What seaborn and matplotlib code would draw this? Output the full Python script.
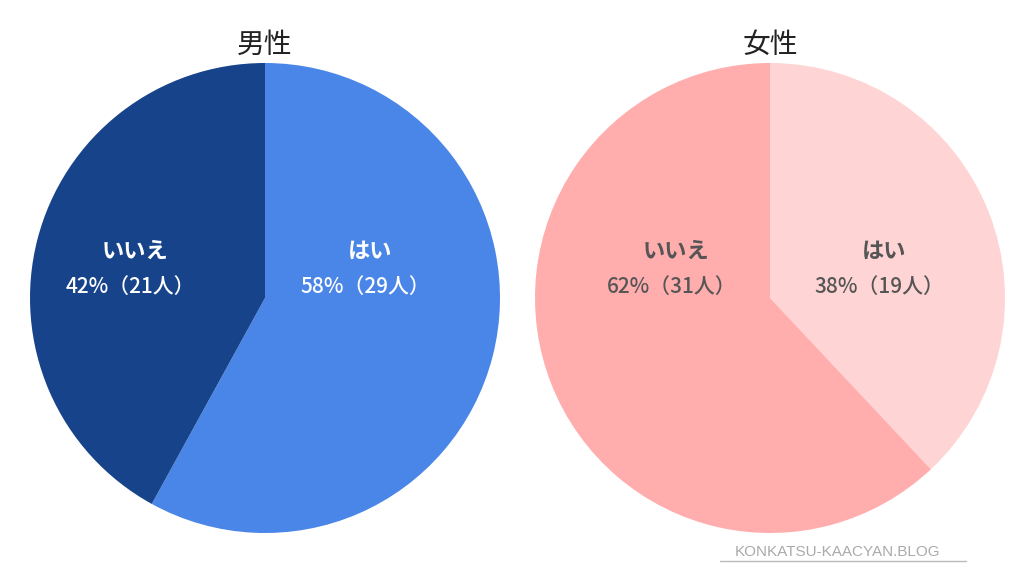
import numpy as np
import matplotlib
matplotlib.use("Agg")
import matplotlib.pyplot as plt
import seaborn as sns

sns.set_theme(style="white")
plt.rcParams['font.family'] = ['Noto Sans CJK JP', 'DejaVu Sans']

titles = ["男性", "女性"]
categories = ["はい", "いいえ"]
male_counts = [29, 21]
female_counts = [19, 31]
male_pcts = [58, 42]
female_pcts = [38, 62]
male_colors = ["#4A86E8", "#16438A"]
female_colors = ["#FFD4D4", "#FFADAD"]
text_colors = ["white", "#555555"]

# label placement factors (fraction of radius along wedge mid-angle, horizontal)
label_k = [[0.44, 0.59], [0.50, 0.45]]

fig = plt.figure(figsize=(10.24, 5.76), dpi=100)
W, H = 1024, 576
r_px = 235
centers = [(265, 298), (770, 298)]

datasets = [(male_counts, male_pcts, male_colors),
            (female_counts, female_pcts, female_colors)]

for i, ((counts, pcts, colors), title) in enumerate(zip(datasets, titles)):
    cx, cy = centers[i]
    ax = fig.add_axes([(cx - r_px) / W, (H - cy - r_px) / H, 2 * r_px / W, 2 * r_px / H])
    wedges, _ = ax.pie(counts, colors=colors, startangle=90, counterclock=False,
                       radius=1.0, wedgeprops=dict(linewidth=0))
    ax.set_xlim(-1, 1)
    ax.set_ylim(-1, 1)
    ax.set_aspect('equal')
    for j, (w, cat, c, p) in enumerate(zip(wedges, categories, counts, pcts)):
        mid = np.deg2rad((w.theta1 + w.theta2) / 2)
        x = label_k[i][j] * np.cos(mid)
        ax.text(x + 0.02, 0.2, cat, ha='center', va='center', fontsize=16,
                fontweight='bold', color=text_colors[i])
        ax.text(x, 0.045, f"{p}%（{c}人）", ha='center', va='center', fontsize=15,
                fontweight='medium', color=text_colors[i])
    fig.text(cx / W, 1 - 45 / H, title, ha='center', va='center', fontsize=20,
             color='#222222')

fig.text(838 / W, 1 - 552 / H, "KONKATSU-KAACYAN.BLOG", ha='center', va='center',
         fontsize=11, color='#AAAAAA', family=['Liberation Sans', 'DejaVu Sans'])
fig.add_artist(plt.Line2D([720 / W, 966 / W], [1 - 561 / H, 1 - 561 / H],
                          color='#BBBBBB', linewidth=1))

fig.savefig("out.png", dpi=100, facecolor='white')
